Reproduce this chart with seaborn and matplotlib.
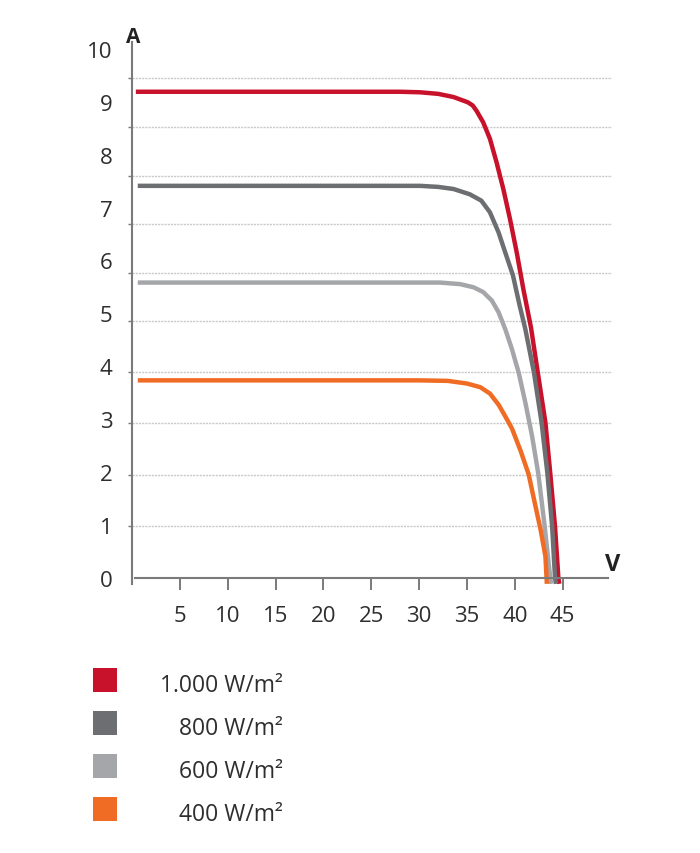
import pandas as pd
import seaborn as sns
import matplotlib.pyplot as plt
from matplotlib.patches import Rectangle
from matplotlib.ticker import FixedLocator

# Irradiance levels (legend) and colours
labels = ["1.000 W/m²", "800 W/m²", "600 W/m²", "400 W/m²"]
colors = ["#c8122c", "#6c6e71", "#a4a6a9", "#f06b24"]

# I-V curves (voltage in V, current in A)
v_1000 = [0.4, 28.0, 30.1, 32.0, 33.6, 35.1, 35.6, 36.0, 36.7, 37.4, 38.1, 38.8,
          39.5, 40.2, 40.9, 41.7, 42.4, 43.2, 43.7, 44.2, 44.55, 44.65]
i_1000 = [9.19, 9.19, 9.18, 9.15, 9.09, 8.99, 8.93, 8.83, 8.61, 8.30, 7.85, 7.35,
          6.78, 6.15, 5.45, 4.72, 3.88, 2.93, 1.98, 0.97, 0.0, -0.12]

v_800 = [0.6, 30.1, 32.0, 33.6, 35.3, 36.5, 37.4, 38.3, 39.0, 39.8, 40.5, 41.1,
         42.0, 42.8, 43.4, 43.9, 44.2, 44.3]
i_800 = [7.41, 7.41, 7.39, 7.35, 7.25, 7.13, 6.91, 6.53, 6.15, 5.72, 5.15, 4.70,
         3.88, 2.93, 1.98, 0.97, 0.0, -0.12]

v_600 = [0.6, 32.2, 34.3, 35.7, 36.7, 37.6, 38.3, 39.0, 39.7, 40.4, 41.1, 41.8,
         42.45, 43.1, 43.4, 43.7, 43.8]
i_600 = [5.58, 5.58, 5.55, 5.49, 5.40, 5.24, 5.02, 4.70, 4.32, 3.88, 3.31, 2.68,
         1.97, 1.00, 0.50, 0.0, -0.12]

v_400 = [0.6, 30.0, 33.0, 35.0, 36.4, 37.4, 38.3, 39.0, 39.7, 40.6, 41.45, 42.1,
         42.7, 43.2, 43.35]
i_400 = [3.73, 3.73, 3.72, 3.67, 3.60, 3.48, 3.27, 3.05, 2.82, 2.40, 1.95, 1.40,
         0.90, 0.40, -0.12]

xticks = [5, 10, 15, 20, 25, 30, 35, 40, 45]
yticks = [0, 1, 2, 3, 4, 5, 6, 7, 8, 9, 10]
# the dotted grid lines of the original do not sit on the labels
grid_levels = [0.98, 1.94, 2.92, 3.88, 4.86, 5.77, 6.69, 7.60, 8.52, 9.45]

frames = []
for lab, v, i in zip(labels, [v_1000, v_800, v_600, v_400], [i_1000, i_800, i_600, i_400]):
    frames.append(pd.DataFrame({"V": v, "A": i, "irr": lab}))
df = pd.concat(frames, ignore_index=True)

sns.set_theme(style="white")
plt.rcParams["font.family"] = ["Open Sans", "DejaVu Sans"]
text_col = "#2e2e2e"
axis_col = "#7a7a7a"

fig = plt.figure(figsize=(7, 8.54), dpi=100)
ax = fig.add_axes([0.1886, 0.3133, 0.6856, 0.6406])

sns.lineplot(data=df, x="V", y="A", hue="irr", hue_order=labels,
             palette=dict(zip(labels, colors)), sort=False, estimator=None,
             lw=3.2, legend=False, ax=ax)
for line in ax.lines:
    line.set_solid_capstyle("butt")
    line.set_solid_joinstyle("round")

ax.set_xlim(0, 50.15)
ax.set_ylim(-0.15, 10.2)
ax.set_xlabel("")
ax.set_ylabel("")

for side in ["top", "right"]:
    ax.spines[side].set_visible(False)
ax.spines["left"].set_bounds(-0.13, 10.13)
ax.spines["bottom"].set_position(("data", 0))
ax.spines["bottom"].set_bounds(0.3, 49.7)
for side in ["left", "bottom"]:
    ax.spines[side].set_color(axis_col)
    ax.spines[side].set_linewidth(1.5)

ax.set_xticks(xticks)
ax.set_yticks(yticks)
ax.yaxis.set_minor_locator(FixedLocator(grid_levels))
ax.grid(False)
ax.grid(which="minor", axis="y", color="#c8c8c8", lw=1.0, ls=(0, (1.5, 0.8)))
ax.set_axisbelow(True)

ax.tick_params(axis="x", which="major", bottom=True, direction="out", length=8.6,
               width=1.4, color=axis_col, pad=11, labelsize=16, labelcolor=text_col)
ax.tick_params(axis="y", which="major", left=True, length=0, pad=14,
               labelsize=16, labelcolor=text_col)
ax.tick_params(axis="y", which="minor", left=True, direction="out", length=3,
               width=1, color=axis_col)

ax.text(0.1, 10.24, "A", ha="center", va="center", fontsize=15,
        fontweight="bold", color="#222222", clip_on=False)
ax.text(50.26, 0.26, "V", ha="center", va="center", fontsize=17,
        fontweight="bold", color="#222222", clip_on=False)

# legend: coloured squares with right-aligned labels
for k, (lab, col) in enumerate(zip(labels, colors)):
    yb = 0.1885 - k * 0.05035
    fig.patches.append(Rectangle((0.1329, yb), 0.0343, 0.0281,
                                 transform=fig.transFigure, facecolor=col,
                                 edgecolor="none"))
    fig.text(0.4043, yb + 0.001, lab, ha="right", va="baseline",
             fontsize=16.5, color=text_col)

fig.savefig("out.png", dpi=100)
